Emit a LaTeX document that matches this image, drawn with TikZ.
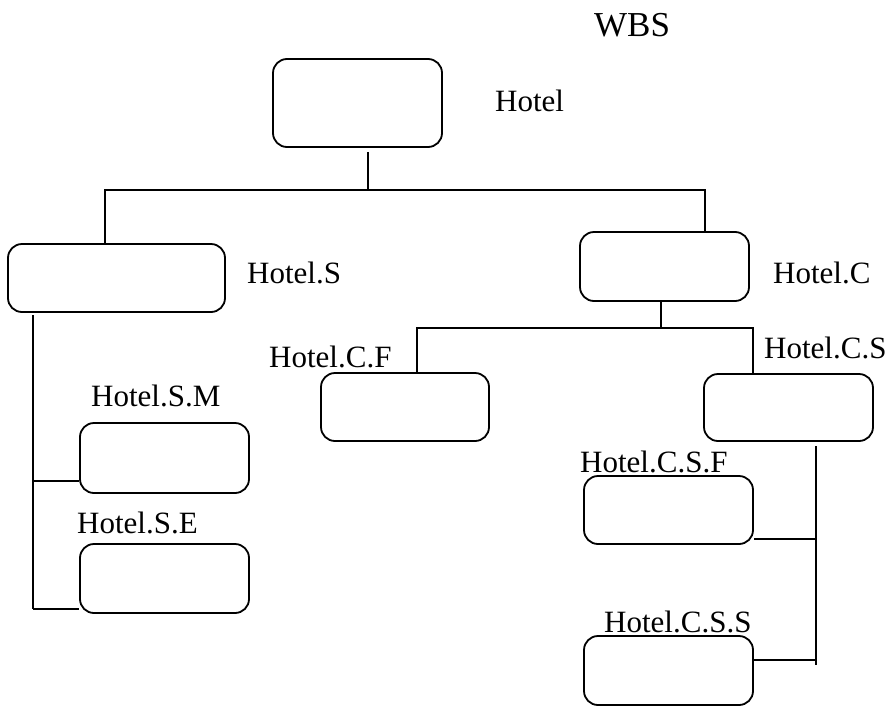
\documentclass[tikz,border=0pt]{standalone}
\usepackage{fontspec}
\setmainfont{Liberation Serif}
\begin{document}
\begin{tikzpicture}[x=1pt,y=-1pt,
  wbsbox/.style={draw, line width=1.8pt, rounded corners=14pt, inner sep=0pt},
  lbl/.style={anchor=base west, inner sep=0pt, font=\fontsize{31}{36}\selectfont},
  link/.style={line width=1.8pt}]
\useasboundingbox (0,0) rectangle (894,707);

% title
\node[anchor=base west, inner sep=0pt, font=\fontsize{35}{40}\selectfont] (title) at (594,36) {WBS};

% boxes
\node[wbsbox, minimum width=169, minimum height=88] (root) at (357.5,103) {};
\node[wbsbox, minimum width=217, minimum height=68] (hs)   at (116.5,278) {};
\node[wbsbox, minimum width=169, minimum height=69] (hc)   at (664.5,266.5) {};
\node[wbsbox, minimum width=168, minimum height=68] (hcf)  at (405,407) {};
\node[wbsbox, minimum width=169, minimum height=67] (hcs)  at (788.5,407.5) {};
\node[wbsbox, minimum width=169, minimum height=70] (hsm)  at (164.5,458) {};
\node[wbsbox, minimum width=169, minimum height=69] (hse)  at (164.5,578.5) {};
\node[wbsbox, minimum width=169, minimum height=68] (hcsf) at (668.5,510) {};
\node[wbsbox, minimum width=169, minimum height=69] (hcss) at (668.5,670.5) {};

% labels
\node[lbl] (lroot) at (495,111) {Hotel};
\node[lbl] (lhs)   at (247,283) {Hotel.S};
\node[lbl] (lhc)   at (773,283) {Hotel.C};
\node[lbl] (lhcs)  at (764,358) {Hotel.C.S};
\node[lbl] (lhcf)  at (269,367) {Hotel.C.F};
\node[lbl] (lhsm)  at (91,406) {Hotel.S.M};
\node[lbl] (lhse)  at (77,533) {Hotel.S.E};
\node[lbl] (lhcsf) at (580,472) {Hotel.C.S.F};
\node[lbl] (lhcss) at (604,632) {Hotel.C.S.S};

% junction points
\coordinate (bus0) at (368,190);
\coordinate (busL) at (105,190);
\coordinate (busR) at (705,190);
\coordinate (bus1) at (661,328);
\coordinate (bus1L) at (417,328);
\coordinate (bus1R) at (753,328);
\coordinate (sTop) at (33,315);
\coordinate (sM) at (33,481);
\coordinate (sE) at (33,609);
\coordinate (cTop) at (816,446);
\coordinate (cF) at (816,539);
\coordinate (cS) at (816,660);
\coordinate (cEnd) at (816,665);

% level 1
\draw[link] ([yshift=-4pt]root.south -| bus0) -- (bus0);
\draw[link] (hs.north -| busL) -- (busL) -- (busR) -- (hc.north -| busR);

% under Hotel.C
\draw[link] (hc.south -| bus1) -- (bus1);
\draw[link] (hcf.north -| bus1L) -- (bus1L) -- (bus1R) -- (hcs.north -| bus1R);

% under Hotel.S
\draw[link] (sTop) -- (sE);
\draw[link] (sM) -- (sM -| hsm.west);
\draw[link] (sE) -- (sE -| hse.west);

% under Hotel.C.S
\draw[link] (cTop) -- (cEnd);
\draw[link] (cF) -- (cF -| hcsf.east);
\draw[link] (cS) -- (cS -| hcss.east);
\end{tikzpicture}
\end{document}
